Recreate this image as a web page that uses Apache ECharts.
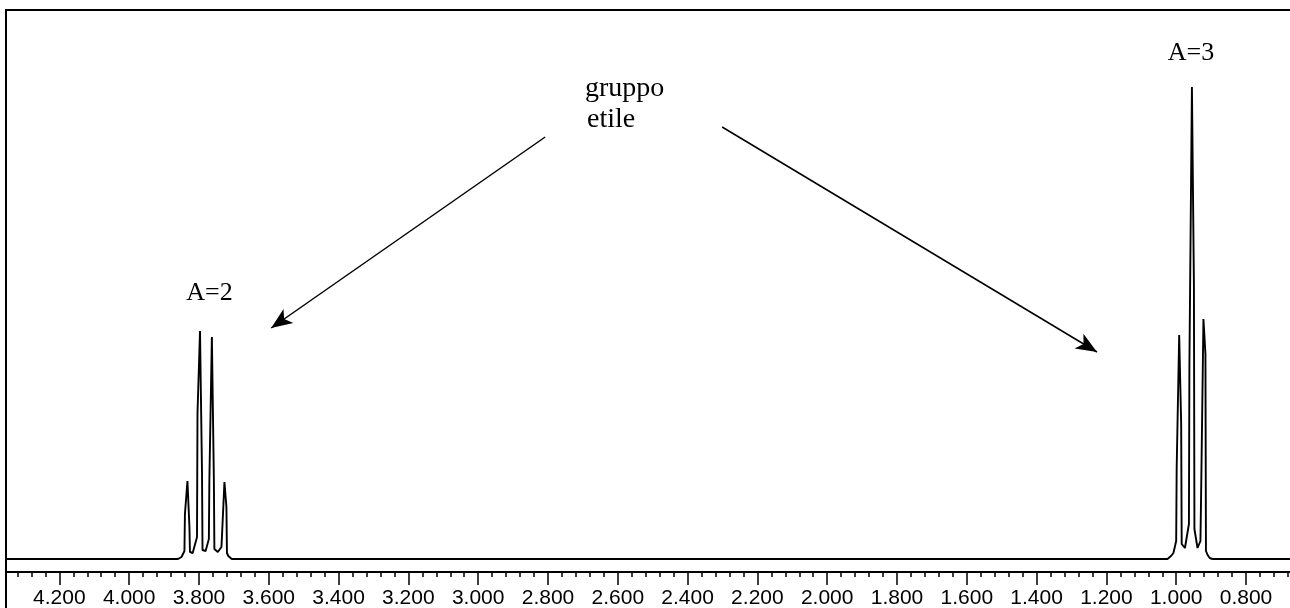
<!DOCTYPE html>
<html>
<head>
<meta charset="utf-8">
<script src="https://cdn.jsdelivr.net/npm/echarts@6/dist/echarts.min.js"></script>
<style>
html,body{margin:0;padding:0;background:#fff;}
#chart{width:1290px;height:608px;}
</style>
</head>
<body>
<div id="chart"></div>
<script>
// Chemical shift (ppm) and intensity
const ppmQuartet = [3.860, 3.850, 3.846,
  3.8416, 3.8402, 3.8330, 3.8273, 3.8258, 3.818,
  3.8056, 3.8042, 3.7970, 3.7913, 3.7898, 3.781,
  3.7716, 3.7702, 3.7630, 3.7573, 3.7558, 3.746,
  3.7356, 3.7342, 3.7270, 3.7213, 3.7198,
  3.716, 3.712, 3.706];
const intQuartet = [0, 0.02, 0.04,
  0.08, 0.45, 0.78, 0.32, 0.07, 0.06,
  0.22, 1.46, 2.28, 0.87, 0.09, 0.08,
  0.20, 0.78, 2.22, 0.80, 0.10, 0.07,
  0.12, 0.22, 0.77, 0.52, 0.06,
  0.03, 0.01, 0];
const ppmTriplet = [1.025, 1.015, 1.008,
  1.0001, 0.9987, 0.9915, 0.9858, 0.9843, 0.975,
  0.9636, 0.9622, 0.9550, 0.9493, 0.9478, 0.939,
  0.9306, 0.9292, 0.9220, 0.9163, 0.9148,
  0.910, 0.904, 0.896];
const intTriplet = [0, 0.03, 0.06,
  0.18, 0.91, 2.24, 1.35, 0.15, 0.11,
  0.35, 1.95, 4.72, 2.75, 0.30, 0.11,
  0.18, 0.51, 2.40, 2.05, 0.08,
  0.04, 0.01, 0];
const baselineStart = [4.40, 0];
const baselineEnd = [0.60, 0];

const majorTicks = [4.2, 4.0, 3.8, 3.6, 3.4, 3.2, 3.0, 2.8, 2.6, 2.4, 2.2, 2.0, 1.8, 1.6, 1.4, 1.2, 1.0, 0.8];
const minorStep = 0.04;
const minorFrom = 4.32, minorTo = 0.68;

// annotations
const labelA2 = 'A=2';
const labelA3 = 'A=3';
const labelGroup = ['gruppo', 'etile'];
const arrowLeft = [[2.808, 4.22], [3.593, 2.31]];
const arrowRight = [[2.301, 4.32], [1.227, 2.07]];

const trace = [baselineStart];
ppmQuartet.forEach((p, i) => trace.push([p, intQuartet[i]]));
ppmTriplet.forEach((p, i) => trace.push([p, intTriplet[i]]));
trace.push(baselineEnd);

const minorTicks = [];
for (let v = minorFrom; v >= minorTo - 1e-9; v -= minorStep) minorTicks.push(Math.round(v * 100) / 100);

const chart = echarts.init(document.getElementById('chart'), null, {renderer: 'canvas'});
const xCommon = {
  type: 'value', inverse: true, min: 0.674, max: 4.350,
  position: 'bottom', splitLine: {show: false}
};
const arrowHead = {symbol: 'arrow', symbolSize: [13, 21]};
chart.setOption({
  animation: false,
  backgroundColor: '#fff',
  grid: {left: 7, right: 0, top: 10, bottom: 36, containLabel: false, outerBoundsMode: 'none'},
  xAxis: [
    Object.assign({}, xCommon, {
      axisLine: {show: true, onZero: false, lineStyle: {color: '#000', width: 2}},
      axisTick: {show: true, length: 13, inside: false, customValues: majorTicks, lineStyle: {color: '#000', width: 1.5}},
      axisLabel: {show: true, customValues: majorTicks, margin: 16, color: '#000',
        fontFamily: '"Liberation Sans", Arial, sans-serif', fontSize: 21,
        formatter: v => Number(v).toFixed(3)}
    }),
    Object.assign({}, xCommon, {
      axisLine: {show: false, onZero: false},
      axisTick: {show: true, length: 5, customValues: minorTicks, lineStyle: {color: '#000', width: 1.5}},
      axisLabel: {show: false}
    })
  ],
  yAxis: {type: 'value', min: -0.13, max: 5.49, show: false},
  series: [{
    type: 'line',
    xAxisIndex: 0,
    data: trace,
    symbol: 'none',
    lineStyle: {color: '#000', width: 1.9},
    silent: true,
    markLine: {
      silent: true,
      symbol: ['none', 'arrow'],
      symbolSize: 20,
      label: {show: false},
      lineStyle: {color: '#000', width: 1.5, type: 'solid'},
      emphasis: {disabled: true},
      data: [
        [{coord: arrowLeft[0], symbol: 'none'}, Object.assign({coord: arrowLeft[1]}, arrowHead)],
        [{coord: arrowRight[0], symbol: 'none'}, Object.assign({coord: arrowRight[1]}, arrowHead)]
      ]
    }
  }],
  graphic: [
    {type: 'rect', silent: true, shape: {x: 6, y: 10, width: 1320, height: 640},
     style: {fill: 'none', stroke: '#000', lineWidth: 2}},
    {type: 'text', silent: true, x: 209.5, y: 293,
     style: {text: labelA2, font: '26px "Liberation Serif", "Times New Roman", serif', fill: '#000', align: 'center', verticalAlign: 'middle'}},
    {type: 'text', silent: true, x: 1191, y: 53,
     style: {text: labelA3, font: '26px "Liberation Serif", "Times New Roman", serif', fill: '#000', align: 'center', verticalAlign: 'middle'}},
    {type: 'text', silent: true, x: 585, y: 88.5,
     style: {text: labelGroup[0], font: '28px "Liberation Serif", "Times New Roman", serif', fill: '#000', align: 'left', verticalAlign: 'middle'}},
    {type: 'text', silent: true, x: 587, y: 119.5,
     style: {text: labelGroup[1], font: '28px "Liberation Serif", "Times New Roman", serif', fill: '#000', align: 'left', verticalAlign: 'middle'}}
  ]
});
</script>
</body>
</html>
